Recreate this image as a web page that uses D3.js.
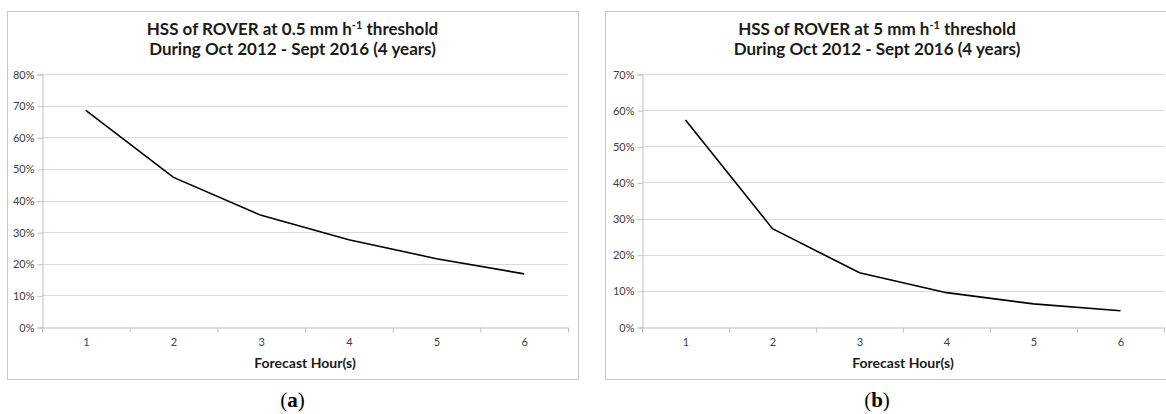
<!DOCTYPE html>
<html>
<head>
<meta charset="utf-8">
<script src="https://cdn.jsdelivr.net/npm/d3@7"></script>
<style>
  body { margin: 0; background: #fff; }
  text { font-family: Lato, "Open Sans", sans-serif; }
</style>
</head>
<body>
<script>
// chart data
var hours = [1, 2, 3, 4, 5, 6];
var hssHalfMm = [0.685, 0.473, 0.353, 0.276, 0.216, 0.168];
var hssFiveMm = [0.573, 0.272, 0.150, 0.095, 0.064, 0.045];
var ticksA = [0, 0.1, 0.2, 0.3, 0.4, 0.5, 0.6, 0.7, 0.8];
var ticksB = [0, 0.1, 0.2, 0.3, 0.4, 0.5, 0.6, 0.7];

var width = 1166;
var height = 414;

var svg = d3.select('body')
  .append('svg')
  .attr('width', width)
  .attr('height', height);

// one panel of the figure
var drawPanel = (p) => {
  var g = svg.append('g');

  // frame
  g.append('rect')
    .attr('x', p.frame[0] + 0.5)
    .attr('y', 11.5)
    .attr('width', p.frame[1] - p.frame[0])
    .attr('height', 368)
    .attr('fill', '#fff')
    .attr('stroke', '#c8c8c8');

  var xScale = d3.scaleLinear()
    .domain([0.5, hours.length + 0.5])
    .range([p.left, p.right]);

  var yScale = d3.scaleLinear()
    .domain([0, d3.max(p.ticks)])
    .range([327, 74]);

  // gridlines
  g.selectAll('.grid')
    .data(p.ticks.slice(1))
    .enter()
    .append('line')
    .attr('x1', p.left)
    .attr('x2', p.right)
    .attr('y1', (d) => Math.round(yScale(d)) + 0.5)
    .attr('y2', (d) => Math.round(yScale(d)) + 0.5)
    .attr('stroke', '#d9d9d9');

  // y axis
  var yAxis = d3.axisLeft(yScale)
    .tickValues(p.ticks)
    .tickFormat(d3.format('.0%'))
    .tickSize(5)
    .tickPadding(3);

  var ya = g.append('g')
    .attr('transform', 'translate(' + (p.left + 0.5) + ',0.5)')
    .call(yAxis);

  // x axis: boundary ticks, then labels
  var xTicks = d3.axisBottom(xScale)
    .tickValues(d3.range(0.5, hours.length + 1, 1))
    .tickFormat('')
    .tickSize(5);

  var xa = g.append('g')
    .attr('transform', 'translate(0,' + (Math.round(yScale(0)) + 0.5) + ')')
    .call(xTicks);

  var xLabels = d3.axisBottom(xScale)
    .tickValues(hours)
    .tickFormat(d3.format('d'))
    .tickSize(0)
    .tickPadding(11);

  var xl = g.append('g')
    .attr('transform', 'translate(0,' + Math.round(yScale(0)) + ')')
    .call(xLabels);
  xl.select('.domain').remove();

  [ya, xa, xl].forEach((a) => {
    a.selectAll('path, line').attr('stroke', '#bfbfbf');
    a.selectAll('text')
      .attr('fill', '#404040')
      .style('font-family', 'Lato, sans-serif')
      .style('font-size', '11px');
  });

  // series line
  var line = d3.line()
    .x((d, i) => xScale(hours[i]))
    .y((d) => yScale(d));

  g.append('path')
    .datum(p.values)
    .attr('d', line)
    .attr('fill', 'none')
    .attr('stroke', '#000')
    .attr('stroke-width', 1.6);

  // title
  var cx = (p.frame[0] + p.frame[1]) / 2;
  if (p.titleX) cx = p.titleX;
  var t1 = g.append('text')
    .attr('x', cx)
    .attr('y', 35)
    .attr('text-anchor', 'middle')
    .style('font-weight', 'bold')
    .style('font-size', '17px')
    .attr('fill', '#1a1a1a');
  t1.append('tspan').text(p.title1);
  t1.append('tspan').attr('dy', -6).style('font-size', '11px').text('-1');
  t1.append('tspan').attr('dy', 6).text(' threshold');

  g.append('text')
    .attr('x', cx)
    .attr('y', 55)
    .attr('text-anchor', 'middle')
    .style('font-weight', 'bold')
    .style('font-size', '17px')
    .attr('fill', '#1a1a1a')
    .text('During Oct 2012 - Sept 2016 (4 years)');

  // x axis title
  g.append('text')
    .attr('x', (p.left + p.right) / 2)
    .attr('y', 368)
    .attr('text-anchor', 'middle')
    .style('font-weight', 'bold')
    .style('font-size', '14px')
    .attr('fill', '#1a1a1a')
    .text('Forecast Hour(s)');

  // panel letter
  var lt = g.append('text')
    .attr('x', cx)
    .attr('y', 407)
    .attr('text-anchor', 'middle')
    .style('font-family', '"Liberation Serif", serif')
    .style('font-size', '21px')
    .attr('fill', '#000');
  lt.append('tspan').text('(');
  lt.append('tspan').style('font-weight', 'bold').text(p.letter);
  lt.append('tspan').text(')');
};

drawPanel({
  frame: [7, 578], left: 42, right: 568,
  ticks: ticksA, values: hssHalfMm,
  title1: 'HSS of ROVER at 0.5 mm h', letter: 'a'
});

drawPanel({
  frame: [605, 1172], left: 642, right: 1164, titleX: 877,
  ticks: ticksB, values: hssFiveMm,
  title1: 'HSS of ROVER at 5 mm h', letter: 'b'
});
</script>
</body>
</html>
